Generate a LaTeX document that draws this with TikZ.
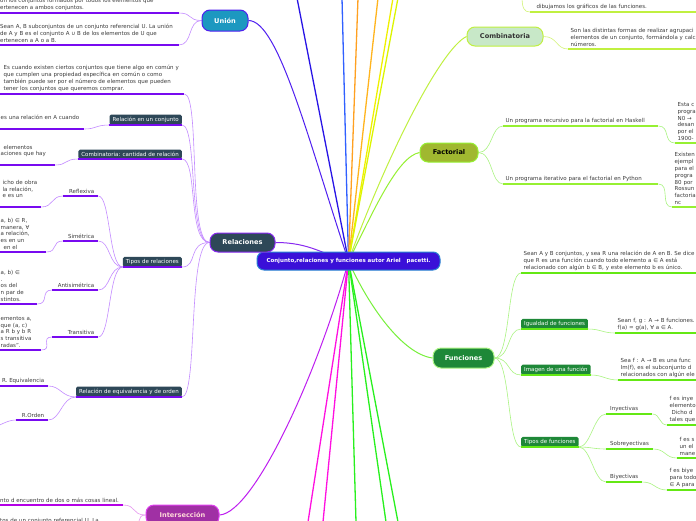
\documentclass[tikz,border=0pt]{standalone}
\usepackage{fontspec}
\setmainfont{DejaVu Sans}
\usepackage{xcolor}
\definecolor{rootblue}{RGB}{58,16,216}
\definecolor{rootline}{RGB}{40,130,210}
\definecolor{uteal}{RGB}{28,152,192}
\definecolor{unionline}{RGB}{80,32,240}
\definecolor{slate}{RGB}{46,72,88}
\definecolor{lpurple}{RGB}{136,40,240}
\definecolor{spurple}{RGB}{196,140,255}
\definecolor{dpurple}{RGB}{120,10,240}
\definecolor{imag}{RGB}{160,48,164}
\definecolor{mborder}{RGB}{224,64,240}
\definecolor{interline}{RGB}{190,30,240}
\definecolor{intunder}{RGB}{180,0,230}
\definecolor{intbranch}{RGB}{230,150,240}
\definecolor{cgreen}{RGB}{200,232,200}
\definecolor{ygreen}{RGB}{192,240,64}
\definecolor{olive}{RGB}{160,184,48}
\definecolor{factline}{RGB}{150,240,50}
\definecolor{fgreen}{RGB}{30,136,56}
\definecolor{funline}{RGB}{120,240,60}
\definecolor{lgreen}{RGB}{170,244,130}
\definecolor{bgreen}{RGB}{100,232,20}
\definecolor{textgray}{RGB}{60,60,60}
\definecolor{offblue}{RGB}{40,20,230}
\definecolor{offsky}{RGB}{48,96,255}
\definecolor{offorange}{RGB}{255,160,32}
\definecolor{offamber}{RGB}{255,180,30}
\definecolor{offyellow}{RGB}{240,240,0}
\definecolor{offlime}{RGB}{220,245,0}
\definecolor{offmagenta}{RGB}{255,16,224}
\definecolor{offgreen}{RGB}{40,240,30}
\usepackage{tikz}
\usetikzlibrary{backgrounds}

\newcommand\leaffont{\fontsize{5.5}{6.9}\selectfont}

\begin{document}
\begin{tikzpicture}[x=1pt,y=-1pt,
  root/.style={rectangle,rounded corners=7pt,draw=rootline,line width=1pt,fill=rootblue,text=white,font=\fontsize{5.5}{6.5}\selectfont\bfseries,minimum width=183pt,minimum height=18pt},
  topic/.style={rectangle,rounded corners=8pt,draw,line width=1pt,minimum height=19pt,text=white,font=\fontsize{6.6}{8}\selectfont\bfseries},
  subbox/.style={rectangle,rounded corners=1.5pt,text=white,font=\leaffont,inner xsep=3pt,inner ysep=2.3pt},
  leaf/.style={anchor=south west,align=left,text=textgray,font=\leaffont,inner xsep=2.5pt,inner ysep=2pt},
  tag/.style={anchor=south west,text=textgray,font=\leaffont,inner xsep=4pt,inner ysep=2pt},
  purpleline/.style={draw=dpurple,line width=1.1pt},
  greenline/.style={draw=bgreen,line width=1.1pt},
  purplebranch/.style={draw=spurple,line width=0.6pt},
  greenbranch/.style={draw=lgreen,line width=0.6pt},
  mainbranch/.style={line width=1pt},
  offbranch/.style={line width=1.3pt}
]
  \useasboundingbox (0,0) rectangle (696,520);
  \clip (0,0) rectangle (696,520);

  % centre and main topics
  \node[root] (root) at (348.5,261) {Conjunto,relaciones y funciones autor Ariel\ \ \ pacetti.};
  \node[topic,fill=uteal,draw=unionline,minimum width=46pt,minimum height=21pt] (u) at (225,20.5) {Unión};
  \node[topic,fill=slate,draw=lpurple,minimum width=65pt] (rel) at (242.5,242.5) {Relaciones};
  \node[topic,fill=imag,draw=mborder,minimum width=73pt,minimum height=20pt,text=pink!60] (inter) at (182.5,515) {Intersección};
  \node[topic,fill=cgreen,draw=ygreen,minimum width=76pt,text=black!80] (comb) at (505,36.5) {Combinatoria};
  \node[topic,fill=olive,draw=factline,minimum width=58pt,text=black] (fact) at (449,152.5) {Factorial};
  \node[topic,fill=fgreen,draw=lgreen,minimum width=61pt,minimum height=20pt] (fun) at (463.5,358) {Funciones};

  % edge points of branches leaving the picture
  \coordinate (offa) at (297,-2);
  \coordinate (offb) at (342,-2);
  \coordinate (offc) at (358,-2);
  \coordinate (offd) at (378,-2);
  \coordinate (offe) at (393,-2);
  \coordinate (offf) at (398,-2);
  \coordinate (offg) at (308,522);
  \coordinate (offh) at (323,522);
  \coordinate (offi) at (356,522);
  \coordinate (offj) at (386,522);
  \coordinate (offk) at (398,522);
  \coordinate (topin) at (522,-4);
  \coordinate (ordout) at (-6,428);

  % Unión
  \node[leaf,text width=176pt] (uA) at (-2.5,13) {on los conjuntos formados por todos los elementos que\\ertenecen a ambos conjuntos.};
  \node[leaf,text width=176pt] (uB) at (-2.5,45) {Sean A, B subconjuntos de un conjunto referencial U. La unión\\de A y B es el conjunto A ∪ B de los elementos de U que\\ertenecen a A o a B.};

  % Relaciones
  \node[leaf,text width=180pt] (relq) at (-1,94) {\hspace{2pt}Es cuando existen ciertos conjuntos que tiene algo en común y\\\hspace{2pt}que cumplen una propiedad específica en común o como\\\hspace{2pt}también puede ser por el número de elementos que pueden\\\hspace{2pt}tener los conjuntos que queremos comprar.};
  \node[subbox,fill=slate,anchor=south east] (relset) at (182,125) {Relación en un conjunto};
  \node[leaf,text width=81pt] (relsetc) at (-2,129) {es una relación en A cuando\\\mbox{}};
  \node[subbox,fill=slate,anchor=south east] (relcomb) at (182,159) {Combinatoria: cantidad de relación};
  \node[leaf,text width=52pt] (relcombc) at (-2,165) {\hspace{3pt}elementos\\aciones que hay\\\mbox{}};
  \node[subbox,fill=slate,anchor=south east] (reltipos) at (182,267) {Tipos de relaciones};
  \node[tag,align=right,text width=27pt] (refl) at (63,196) {Reflexiva};
  \node[tag,align=right,text width=27pt] (sim) at (63,241) {Simétrica};
  \node[tag,align=right,text width=38pt] (anti) at (52,290) {Antisimétrica};
  \node[tag,align=right,text width=38pt] (trans) at (52,337) {Transitiva};
  \node[leaf,text width=36pt] (reflc) at (0,207) {icho de obra\\la relación,\\e es un\\\mbox{}};
  \node[leaf,text width=43pt] (simc) at (-2,252) {a, b) ∈ R,\\manera, ∀\\a relación,\\es en un\\\hspace{3pt}en el};
  \node[leaf,text width=34pt] (antic) at (-2,304) {a, b) ∈\\.\\os del\\n par de\\stintos.};
  \node[leaf,text width=38pt] (transc) at (-2,350) {ementos a,\\que (a, c)\\a R b y b R\\s transitiva\\radas”.};
  \node[subbox,fill=slate,anchor=south east] (relequiv) at (182,397) {Relación de equivalencia y de orden};
  \node[tag,align=right,text width=46pt] (eqv) at (-6,386) {R. Equivalencia};
  \node[tag,align=right,text width=24pt] (ord) at (16,420) {R.Orden};

  % Intersección
  \node[leaf,text width=120pt] (intA) at (-2.5,505) {nto d encuentro de dos o más cosas lineal.};
  \node[leaf,text width=130pt] (intB) at (-2.5,526) {tos de un conjunto referencial U. La};

  % Combinatoria
  \node[leaf,text width=160pt] (combA) at (568,49) {Son las distintas formas de realizar agrupaci\\elementos de un conjunto, formándola y calc\\números.};
  \node[leaf,text width=170pt] (topA) at (530,12) {\hspace{4pt}dibujamos los gráficos de las funciones.};

  % Factorial
  \node[leaf,text width=150pt] (fA) at (503,126) {Un programa recursivo para la factorial en Haskell};
  \node[leaf,text width=150pt] (fB) at (503,184) {Un programa iterativo para el factorial en Python};
  \node[leaf,text width=40pt] (fAc) at (675,143) {Esta c\\progra\\N0 →\\desan\\por el\\1900-};
  \node[leaf,text width=40pt] (fBc) at (672,207) {Existen\\ejempl\\para el\\progra\\80 por\\Rossun\\factoria\\nc};

  % Funciones
  \node[leaf,text width=200pt] (funA) at (521,273) {Sean A y B conjuntos, y sea R una relación de A en B. Se dice\\que R es una función cuando todo elemento a ∈ A está\\relacionado con algún b ∈ B, y este elemento b es único.};
  \node[subbox,fill=fgreen,anchor=south west] (funig) at (521,329) {Igualdad de funciones};
  \node[leaf,text width=100pt] (funigc) at (615,333) {Sean f, g : A → B funciones.\\f(a) = g(a), ∀ a ∈ A.};
  \node[subbox,fill=fgreen,anchor=south west] (funim) at (521,375) {Imagen de una función};
  \node[leaf,text width=100pt] (funimc) at (618,380) {Sea f : A → B es una func\\Im(f), es el subconjunto d\\relacionados con algún ele};
  \node[subbox,fill=fgreen,anchor=south west] (funtp) at (521,447) {Tipos de funciones};
  \node[tag,align=left,text width=38pt] (iny) at (606,414) {Inyectivas};
  \node[tag,align=left,text width=39pt] (sob) at (606,449) {Sobreyectivas};
  \node[tag,align=left,text width=28pt] (biy) at (606,482) {Biyectivas};
  \node[leaf,text width=40pt] (inyc) at (667,425) {f es inye\\elemento\\\hspace{2pt}Dicho d\\tales que};
  \node[leaf,text width=30pt] (sobc) at (677,458) {f es s\\un el\\mane};
  \node[leaf,text width=40pt] (biyc) at (667,490) {f es biye\\para todo\\∈ A para};

  % underlines
  \draw[purpleline] (uA.south west) -- (uA.south east);
  \draw[purpleline] (uB.south west) -- (uB.south east);
  \draw[purpleline] (relq.south west) -- (relq.south east);
  \draw[purpleline] (relset.south west) -- (relset.south east);
  \draw[purpleline] (relsetc.south west) -- (relsetc.south east);
  \draw[purpleline] (relcomb.south west) -- (relcomb.south east);
  \draw[purpleline] (relcombc.south west) -- (relcombc.south east);
  \draw[purpleline] (reltipos.south west) -- (reltipos.south east);
  \draw[purpleline] (refl.south west) -- (refl.south east);
  \draw[purpleline] (sim.south west) -- (sim.south east);
  \draw[purpleline] (anti.south west) -- (anti.south east);
  \draw[purpleline] (trans.south west) -- (trans.south east);
  \draw[purpleline] (reflc.south west) -- (reflc.south east);
  \draw[purpleline] (simc.south west) -- (simc.south east);
  \draw[purpleline] (antic.south west) -- (antic.south east);
  \draw[purpleline] (transc.south west) -- (transc.south east);
  \draw[purpleline] (relequiv.south west) -- (relequiv.south east);
  \draw[purpleline] (eqv.south west) -- (eqv.south east);
  \draw[purpleline] (ord.south west) -- (ord.south east);
  \draw[purpleline,draw=intunder] (intA.south west) -- (intA.south east);
  \draw[purpleline,draw=intunder] (intB.south west) -- (intB.south east);
  \draw[greenline,draw=ygreen] (combA.south west) -- (combA.south east);
  \draw[greenline,draw=ygreen] (topA.south west) -- (topA.south east);
  \draw[greenline,draw=factline] (fA.south west) -- (fA.south east);
  \draw[greenline,draw=factline] (fB.south west) -- (fB.south east);
  \draw[greenline,draw=factline] (fAc.south west) -- (fAc.south east);
  \draw[greenline,draw=factline] (fBc.south west) -- (fBc.south east);
  \draw[greenline] (funA.south west) -- (funA.south east);
  \draw[greenline] (funig.south west) -- (funig.south east);
  \draw[greenline] (funigc.south west) -- (funigc.south east);
  \draw[greenline] (funim.south west) -- (funim.south east);
  \draw[greenline] (funimc.south west) -- (funimc.south east);
  \draw[greenline] (funtp.south west) -- (funtp.south east);
  \draw[greenline] (iny.south west) -- (iny.south east);
  \draw[greenline] (sob.south west) -- (sob.south east);
  \draw[greenline] (biy.south west) -- (biy.south east);
  \draw[greenline] (inyc.south west) -- (inyc.south east);
  \draw[greenline] (sobc.south west) -- (sobc.south east);
  \draw[greenline] (biyc.south west) -- (biyc.south east);

  \begin{scope}[on background layer]
    \fill[white] (0,0) rectangle (696,520);
    % main branches
    \draw[mainbranch,draw=unionline] (u.east) .. controls +(30,0) and +(-40,-120) .. (root.center);
    \draw[mainbranch,draw=lpurple] (rel.east) .. controls +(35,0) and +(-25,-6) .. (root.center);
    \draw[mainbranch,draw=interline] (inter.east) .. controls +(35,-2) and +(-30,110) .. (root.center);
    \draw[mainbranch,draw=ygreen] (root.center) .. controls +(40,-110) and +(-25,12) .. (comb.west);
    \draw[mainbranch,draw=factline] (root.center) .. controls +(25,-50) and +(-22,4) .. (fact.west);
    \draw[mainbranch,draw=funline] (root.center) .. controls +(20,45) and +(-30,-4) .. (fun.west);
    \draw[offbranch,draw=offblue] (root.center) -- (offa);
    \draw[offbranch,draw=offsky] (root.center) -- (offb);
    \draw[offbranch,draw=offorange] (root.center) -- (offc);
    \draw[offbranch,draw=offamber] (root.center) -- (offd);
    \draw[offbranch,draw=offyellow] (root.center) -- (offe);
    \draw[offbranch,draw=offlime] (root.center) -- (offf);
    \draw[offbranch,draw=offmagenta] (root.center) -- (offg);
    \draw[offbranch,draw=offmagenta] (root.center) -- (offh);
    \draw[offbranch,draw=offgreen] (root.center) -- (offi);
    \draw[offbranch,draw=offgreen] (root.center) -- (offj);
    \draw[offbranch,draw=offgreen] (root.center) -- (offk);

    % Unión and Relaciones
    \draw[purplebranch] (u.west) .. controls +(-14,0) and +(14,0) .. (uA.south east);
    \draw[purplebranch] (u.west) .. controls +(-14,0) and +(14,0) .. (uB.south east);
    \draw[purplebranch] (rel.west) .. controls +(-22,0) and +(16,0) .. (relq.south east);
    \draw[purplebranch] (rel.west) .. controls +(-22,0) and +(16,0) .. (relset.south east);
    \draw[purplebranch] (rel.west) .. controls +(-22,0) and +(16,0) .. (relcomb.south east);
    \draw[purplebranch] (rel.west) .. controls +(-22,0) and +(16,0) .. (reltipos.south east);
    \draw[purplebranch] (rel.west) .. controls +(-22,0) and +(16,0) .. (relequiv.south east);
    \draw[purplebranch] (relset.south west) .. controls +(-14,0) and +(12,0) .. (relsetc.south east);
    \draw[purplebranch] (relcomb.south west) .. controls +(-14,0) and +(12,0) .. (relcombc.south east);
    \draw[purplebranch] (reltipos.south west) .. controls +(-14,0) and +(12,0) .. (refl.south east);
    \draw[purplebranch] (reltipos.south west) .. controls +(-14,0) and +(12,0) .. (sim.south east);
    \draw[purplebranch] (reltipos.south west) .. controls +(-14,0) and +(12,0) .. (anti.south east);
    \draw[purplebranch] (reltipos.south west) .. controls +(-14,0) and +(12,0) .. (trans.south east);
    \draw[purplebranch] (refl.south west) .. controls +(-12,0) and +(12,0) .. (reflc.south east);
    \draw[purplebranch] (sim.south west) .. controls +(-12,0) and +(12,0) .. (simc.south east);
    \draw[purplebranch] (anti.south west) .. controls +(-12,0) and +(12,0) .. (antic.south east);
    \draw[purplebranch] (trans.south west) .. controls +(-12,0) and +(12,0) .. (transc.south east);
    \draw[purplebranch] (relequiv.south west) .. controls +(-14,0) and +(12,0) .. (eqv.south east);
    \draw[purplebranch] (relequiv.south west) .. controls +(-14,0) and +(12,0) .. (ord.south east);
    \draw[purplebranch] (ord.south west) .. controls +(-8,0) and +(6,-3) .. (ordout);

    % Intersección
    \draw[purplebranch,draw=intbranch] (inter.west) .. controls +(-14,0) and +(14,0) .. (intA.south east);
    \draw[purplebranch,draw=intbranch] (inter.west) .. controls +(-10,0) and +(10,0) .. (intB.south east);

    % Combinatoria and Factorial
    \draw[greenbranch,draw=ygreen!70] (comb.east) .. controls +(14,0) and +(-12,0) .. (combA.south west);
    \draw[greenbranch,draw=ygreen!70] (topin) .. controls +(0,12) and +(-6,0) .. (topA.south west);
    \draw[greenbranch] (fact.east) .. controls +(14,0) and +(-12,0) .. (fA.south west);
    \draw[greenbranch] (fact.east) .. controls +(14,0) and +(-12,0) .. (fB.south west);
    \draw[greenbranch] (fA.south east) .. controls +(12,0) and +(-12,0) .. (fAc.south west);
    \draw[greenbranch] (fB.south east) .. controls +(12,0) and +(-12,0) .. (fBc.south west);

    % Funciones
    \draw[greenbranch] (fun.east) .. controls +(16,0) and +(-14,0) .. (funA.south west);
    \draw[greenbranch] (fun.east) .. controls +(16,0) and +(-14,0) .. (funig.south west);
    \draw[greenbranch] (fun.east) .. controls +(16,0) and +(-14,0) .. (funim.south west);
    \draw[greenbranch] (fun.east) .. controls +(16,0) and +(-14,0) .. (funtp.south west);
    \draw[greenbranch] (funig.south east) .. controls +(12,0) and +(-12,0) .. (funigc.south west);
    \draw[greenbranch] (funim.south east) .. controls +(12,0) and +(-12,0) .. (funimc.south west);
    \draw[greenbranch] (funtp.south east) .. controls +(12,0) and +(-12,0) .. (iny.south west);
    \draw[greenbranch] (funtp.south east) .. controls +(12,0) and +(-12,0) .. (sob.south west);
    \draw[greenbranch] (funtp.south east) .. controls +(12,0) and +(-12,0) .. (biy.south west);
    \draw[greenbranch] (iny.south east) .. controls +(8,0) and +(-8,0) .. (inyc.south west);
    \draw[greenbranch] (sob.south east) .. controls +(12,0) and +(-12,0) .. (sobc.south west);
    \draw[greenbranch] (biy.south east) .. controls +(12,0) and +(-12,0) .. (biyc.south west);
  \end{scope}
\end{tikzpicture}
\end{document}
